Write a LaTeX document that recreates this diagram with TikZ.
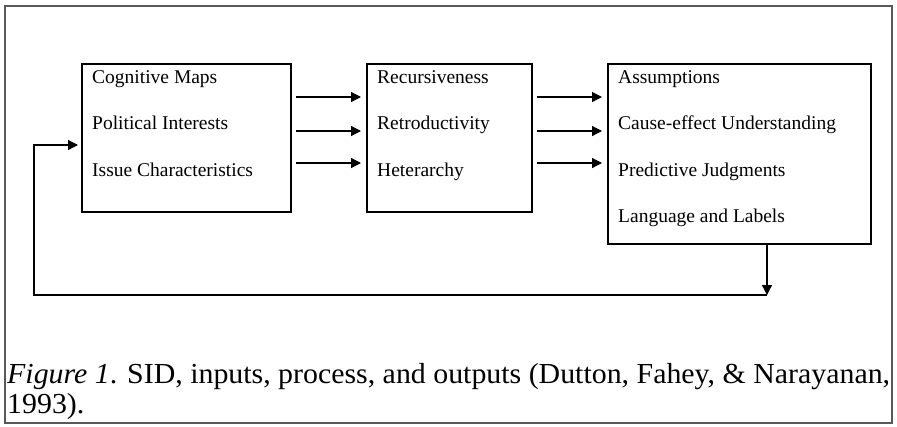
\documentclass[tikz,border=0pt]{standalone}
\usepackage{fontspec}
\setmainfont{Liberation Serif}
\usetikzlibrary{arrows.meta}

\begin{document}
\begin{tikzpicture}[x=1pt,y=-1pt,
    box/.style={draw,line width=1.3pt,inner sep=0pt,outer sep=0pt,anchor=north west},
    item/.style={anchor=base west,inner sep=0pt,font=\fontsize{19.5}{22}\selectfont},
    arr/.style={line width=1.3pt,-{Triangle[length=10pt,width=10pt]}}]
                \useasboundingbox (0,0) rectangle (897,426);
                \draw[gray!70!black,line width=1.2pt] (5,6) rectangle (892,423);

                \node[box,minimum width=209pt,minimum height=148pt] (in) at (82,64) {};
                \node[box,minimum width=165pt,minimum height=148pt] (proc) at (367,64) {};
                \node[box,minimum width=263pt,minimum height=180pt] (out) at (608,64) {};

                \foreach \t [count=\i] in {Cognitive Maps,Political Interests,Issue Characteristics}
                    \node[item] (in\i) at ([shift={(10,{19+46.5*(\i-1)})}]in.north west) {\t};
                \foreach \t [count=\i] in {Recursiveness,Retroductivity,Heterarchy}
                    \node[item] (proc\i) at ([shift={(10,{19+46.5*(\i-1)})}]proc.north west) {\t};
                \foreach \t [count=\i] in {Assumptions,Cause-effect Understanding,Predictive Judgments,Language and Labels}
                    \node[item] (out\i) at ([shift={(10,{19+46.5*(\i-1)})}]out.north west) {\t};

                \foreach \y in {33,67,99} {
                    \draw[arr] ([shift={(5,\y)}]in.north east) -- ([shift={(-6,\y)}]proc.north west);
                    \draw[arr] ([shift={(5,\y)}]proc.north east) -- ([shift={(-6,\y)}]out.north west);
                }

                % feedback loop
                \coordinate (fb) at ([xshift=27.5pt]out.south |- 0,295);
                \coordinate (back) at (34,295);
                \coordinate (entry) at ([yshift=-7pt]in.west);
                \draw[arr] (out.south -| fb) -- (fb);
                \draw[arr] (fb) -- (back) |- ([xshift=-4pt]entry);

                \node[anchor=base west,inner sep=0pt,align=left,xscale=1.03,
                      font=\fontsize{29}{30}\selectfont] (cap) at (7,413)
                    {\textit{Figure 1}. SID, inputs, process, and outputs (Dutton, Fahey, \& Narayanan,\\1993).};
            \end{tikzpicture}
\end{document}
